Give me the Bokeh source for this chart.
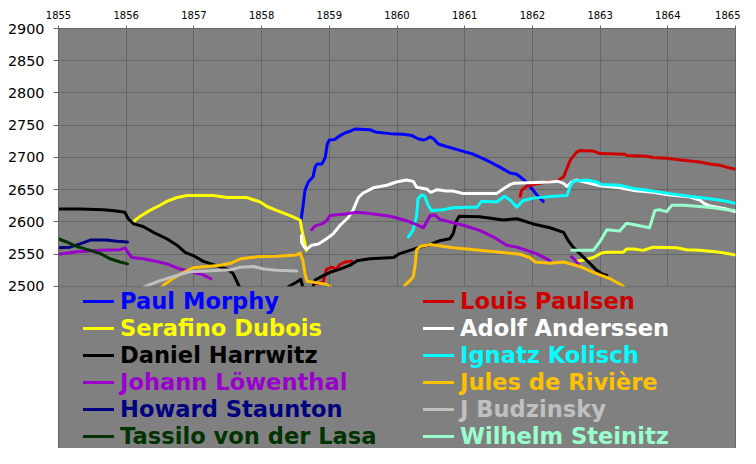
import numpy as np
from bokeh.plotting import figure
from bokeh.models import Range1d, FixedTicker, BoxAnnotation, Legend, LegendItem, ColumnDataSource
from bokeh.embed import file_html
from bokeh.resources import INLINE

NaN = float("nan")

year_ticks = list(range(1855, 1866))
rating_ticks = list(range(2500, 2901, 50))

morphy_x = [1858.58, 1858.61, 1858.64, 1858.69, 1858.76, 1858.79, 1858.82, 1858.89, 1858.94, 1858.97, 1859.00,
            1859.08, 1859.16, 1859.23, 1859.31, 1859.38, 1859.60, 1859.70, 1859.90, 1860.09, 1860.22, 1860.31,
            1860.39, 1860.44, 1860.49, 1860.54, 1860.61, 1860.73, 1860.93, 1861.13, 1861.32, 1861.52, 1861.67,
            1861.77, 1861.89, 1861.99, 1862.09, 1862.16]
morphy_y = [2602, 2623, 2649, 2662, 2670, 2685, 2690, 2690, 2700, 2721, 2727, 2728, 2734, 2738, 2741, 2744, 2743,
            2739, 2737, 2736, 2734, 2729, 2727, 2729, 2732, 2729, 2721, 2717, 2711, 2705, 2696, 2685, 2676, 2674,
            2664, 2652, 2639, 2632]

paulsen_x = [1858.81, 1858.91, 1858.94, 1858.96, 1859.04, 1859.10, 1859.16, 1859.23, 1859.33, NaN,
             1861.82, 1861.84, 1861.91, 1862.01, 1862.21, 1862.36, 1862.46, 1862.51, 1862.56, 1862.65, 1862.70,
             1862.90, 1863.00, 1863.37, 1863.39, 1863.69, 1863.78, 1863.98, 1864.13, 1864.47, 1864.62, 1864.77,
             1864.87, 1864.99]
paulsen_y = [2504, 2507, 2520, 2527, 2530, 2527, 2534, 2538, 2539, NaN,
             2640, 2649, 2655, 2658, 2662, 2663, 2670, 2683, 2696, 2708, 2711, 2710, 2706, 2705, 2703, 2702, 2700,
             2699, 2697, 2693, 2690, 2688, 2685, 2682]

dubois_x = [1856.10, 1856.21, 1856.35, 1856.50, 1856.60, 1856.75, 1856.90, 1857.29, 1857.49, 1857.78, 1857.98,
            1858.08, 1858.22, 1858.42, 1858.57, 1858.59, 1858.63, 1858.66, NaN,
            1862.66, 1862.75, 1862.90, 1863.02, 1863.10, 1863.34, 1863.39, 1863.49, 1863.64, 1863.78, 1864.13,
            1864.28, 1864.47, 1864.77, 1864.99]
dubois_y = [2600, 2609, 2618, 2626, 2632, 2638, 2641, 2641, 2638, 2638, 2631, 2624, 2618, 2610, 2603, 2590, 2571,
            2556, NaN,
            2539, 2541, 2545, 2552, 2553, 2553, 2558, 2558, 2556, 2561, 2560, 2557, 2556, 2553, 2549]

anderssen_x = [1858.59, 1858.59, 1858.63, 1858.67, 1858.74, 1858.84, 1858.96, 1859.06, 1859.16, 1859.28, 1859.35,
               1859.43, 1859.50, 1859.65, 1859.85, 1859.99, 1860.14, 1860.24, 1860.29, 1860.39, 1860.44, 1860.50,
               1860.59, 1860.73, 1860.83, 1860.98, 1861.47, 1861.55, 1861.67, 1861.72, 1862.26, 1862.38, 1862.46,
               1862.51, 1862.58, 1862.65, 1863.00, 1863.29, 1863.49, 1863.78, 1864.03, 1864.32, 1864.47, 1864.55,
               1864.62, 1864.87, 1864.99]
anderssen_y = [2579, 2569, 2561, 2558, 2564, 2566, 2574, 2582, 2595, 2607, 2618, 2638, 2645, 2653, 2657, 2662,
               2665, 2663, 2654, 2652, 2651, 2646, 2650, 2648, 2648, 2644, 2644, 2650, 2658, 2660, 2662, 2663,
               2660, 2655, 2662, 2665, 2656, 2653, 2649, 2646, 2642, 2639, 2634, 2628, 2625, 2620, 2616]

harrwitz_x = [1855.00, 1855.32, 1855.66, 1855.86, 1855.98, 1856.03, 1856.11, 1856.25, 1856.40, 1856.60, 1856.75,
              1856.87, 1856.99, 1857.14, 1857.29, 1857.49, 1857.58, 1857.66, 1857.72, 1858.35, 1858.40, 1858.52,
              1858.58, 1858.61, 1858.75, 1858.79, 1858.86, 1859.01, 1859.16, 1859.31, 1859.41, 1859.60, 1859.95,
              1860.04, 1860.19, 1860.34, 1860.49, 1860.63, 1860.78, 1860.83, 1860.88, 1860.92, 1861.22, 1861.57,
              1861.77, 1862.01, 1862.26, 1862.46, 1862.53, 1862.60, 1862.80, 1862.95, 1863.02, 1863.10]
harrwitz_y = [2620, 2620, 2619, 2617, 2615, 2605, 2597, 2593, 2584, 2574, 2564, 2553, 2548, 2539, 2534, 2527,
              2520, 2502, 2488, 2490, 2500, 2507, 2511, 2498, 2496, 2510, 2514, 2522, 2527, 2533, 2540, 2543,
              2545, 2551, 2556, 2561, 2565, 2571, 2574, 2582, 2602, 2609, 2608, 2603, 2605, 2597, 2591, 2584,
              2571, 2561, 2541, 2525, 2520, 2517]

kolisch_x = [1860.17, 1860.24, 1860.29, 1860.31, 1860.36, 1860.41, 1860.46, 1860.51, 1860.68, 1860.83, 1861.03,
             1861.18, 1861.25, 1861.47, 1861.59, 1861.67, 1861.77, 1861.86, 1862.01, 1862.31, 1862.51, 1862.56,
             1862.60, 1862.80, 1862.95, 1863.02, 1863.29, 1863.49, 1863.78, 1864.03, 1864.32, 1864.62, 1864.87,
             1864.99]
kolisch_y = [2577, 2588, 2610, 2636, 2642, 2640, 2626, 2618, 2619, 2622, 2623, 2623, 2632, 2631, 2640, 2634,
             2623, 2633, 2637, 2640, 2641, 2656, 2663, 2665, 2662, 2658, 2657, 2652, 2648, 2644, 2640, 2636,
             2632, 2629]

lowenthal_x = [1855.00, 1855.27, 1855.62, 1855.91, 1855.98, 1856.08, 1856.25, 1856.40, 1856.60, 1856.80, 1856.99,
               1857.14, 1857.25, NaN,
               1858.74, 1858.79, 1858.89, 1858.96, 1859.01, 1859.21, 1859.41, 1859.60, 1859.90, 1860.14, 1860.29,
               1860.39, 1860.49, 1860.56, 1860.63, 1860.98, 1861.22, 1861.42, 1861.62, 1861.77, 1862.06, 1862.26,
               NaN, 1862.58, 1862.68]
lowenthal_y = [2550, 2554, 2556, 2557, 2560, 2545, 2543, 2540, 2535, 2527, 2522, 2518, 2512, NaN,
               2588, 2594, 2597, 2602, 2610, 2612, 2615, 2613, 2609, 2602, 2596, 2591, 2610, 2611, 2604, 2595,
               2587, 2577, 2564, 2561, 2551, 2540, NaN, 2546, 2535]

riviere_x = [1856.50, 1856.55, 1856.70, 1856.85, 1856.99, 1857.19, 1857.39, 1857.54, 1857.69, 1857.93, 1858.22,
             1858.52, 1858.57, 1858.61, 1858.64, 1858.67, 1858.81, 1858.96, 1859.01, 1859.05, NaN,
             1860.08, 1860.12, 1860.19, 1860.24, 1860.27, 1860.29, 1860.34, 1860.49, 1860.83, 1861.22, 1861.52,
             1861.82, 1861.96, 1862.04, 1862.26, 1862.46, 1862.56, 1862.70, 1862.90, 1863.15, 1863.32, 1863.40]
riviere_y = [2495, 2502, 2513, 2522, 2529, 2531, 2533, 2536, 2543, 2546, 2547, 2549, 2552, 2540, 2520, 2508,
             2506, 2503, 2500, 2495, NaN,
             2495, 2502, 2509, 2515, 2535, 2557, 2562, 2565, 2560, 2556, 2553, 2550, 2545, 2538, 2536, 2538,
             2535, 2531, 2522, 2512, 2502, 2495]

staunton_x = [1855.00, 1855.17, 1855.32, 1855.47, 1855.71, 1855.86, 1856.02]
staunton_y = [2560, 2561, 2566, 2572, 2572, 2570, 2569]

budzinsky_x = [1856.22, 1856.28, 1856.50, 1856.75, 1856.94, 1857.19, 1857.54, 1857.69, 1857.88, 1858.03, 1858.22,
               1858.52]
budzinsky_y = [2495, 2500, 2509, 2517, 2523, 2524, 2526, 2530, 2531, 2527, 2525, 2524]

lasa_x = [1855.00, 1855.12, 1855.27, 1855.47, 1855.62, 1855.76, 1855.91, 1856.02]
lasa_y = [2574, 2569, 2562, 2556, 2551, 2543, 2538, 2535]

steinitz_x = [1862.58, 1862.90, 1863.00, 1863.10, 1863.29, 1863.39, 1863.49, 1863.73, 1863.81, 1863.88, 1863.98,
              1864.06, 1864.23, 1864.47, 1864.67, 1864.87, 1864.99]
steinitz_y = [2556, 2556, 2570, 2588, 2586, 2598, 2596, 2591, 2618, 2619, 2616, 2626, 2626, 2624, 2622, 2619, 2618]

players = [
    ("Paul Morphy", "#0000FF", morphy_x, morphy_y),
    ("Louis Paulsen", "#CC0000", paulsen_x, paulsen_y),
    ("Serafino Dubois", "#FFFF00", dubois_x, dubois_y),
    ("Adolf Anderssen", "#FFFFFF", anderssen_x, anderssen_y),
    ("Daniel Harrwitz", "#000000", harrwitz_x, harrwitz_y),
    ("Ignatz Kolisch", "#00FFFF", kolisch_x, kolisch_y),
    ("Johann Löwenthal", "#9900CC", lowenthal_x, lowenthal_y),
    ("Jules de Rivière", "#FFC000", riviere_x, riviere_y),
    ("Howard Staunton", "#000080", staunton_x, staunton_y),
    ("J Budzinsky", "#C0C0C0", budzinsky_x, budzinsky_y),
    ("Tassilo von der Lasa", "#003300", lasa_x, lasa_y),
    ("Wilhelm Steinitz", "#99FFCC", steinitz_x, steinitz_y),
]

p = figure(width=740, height=448, x_range=Range1d(1855, 1865), y_range=Range1d(2248.8, 2900),
           output_backend="svg", toolbar_location=None, x_axis_location="above",
           min_border_left=58, min_border_right=5, min_border_top=28, min_border_bottom=0,
           background_fill_color="#808080", border_fill_color="white", outline_line_color="#666666")

p.xaxis.ticker = FixedTicker(ticks=year_ticks)
p.yaxis.ticker = FixedTicker(ticks=rating_ticks)
for ax in (p.xaxis, p.yaxis):
    ax.minor_tick_line_color = None
    ax.axis_line_color = "#666666"
    ax.major_tick_line_color = "#666666"
    ax.major_tick_in = 0
    ax.major_label_text_font = "DejaVu Sans"
    ax.major_label_text_color = "black"
p.xaxis.major_tick_out = 3
p.xaxis.major_label_standoff = 7
p.xaxis.major_label_text_font_size = "10px"
p.yaxis.major_tick_out = 5
p.yaxis.major_label_standoff = 9
p.yaxis.major_label_text_font_size = "14.4px"

p.grid.grid_line_color = "#666666"
p.grid.grid_line_alpha = 1
p.grid.grid_line_width = 1

renderers = []
for name, color, xs, ys in players:
    src = ColumnDataSource(dict(x=np.array(xs, dtype=float), y=np.array(ys, dtype=float)))
    r = p.line("x", "y", source=src, line_color=color, line_width=3, line_join="round", line_cap="round")
    renderers.append(r)

cover = BoxAnnotation(top=2500, fill_color="#808080", fill_alpha=1, line_color="#666666", line_width=2)
p.add_layout(cover)

for i, (name, color, xs, ys) in enumerate(players):
    col = i % 2
    row = i // 2
    leg = Legend(items=[LegendItem(label=name, renderers=[renderers[i]])],
                 location=(25 + 340 * col, 133 - 27 * row),
                 label_text_color=color, label_text_font="DejaVu Sans", label_text_font_style="bold",
                 label_text_font_size="22.6px", glyph_width=31, glyph_height=28, label_height=28,
                 label_standoff=6, padding=0, margin=0, spacing=0,
                 background_fill_alpha=0, border_line_alpha=0)
    p.add_layout(leg)

open("out.html", "w").write(file_html(p, INLINE))
